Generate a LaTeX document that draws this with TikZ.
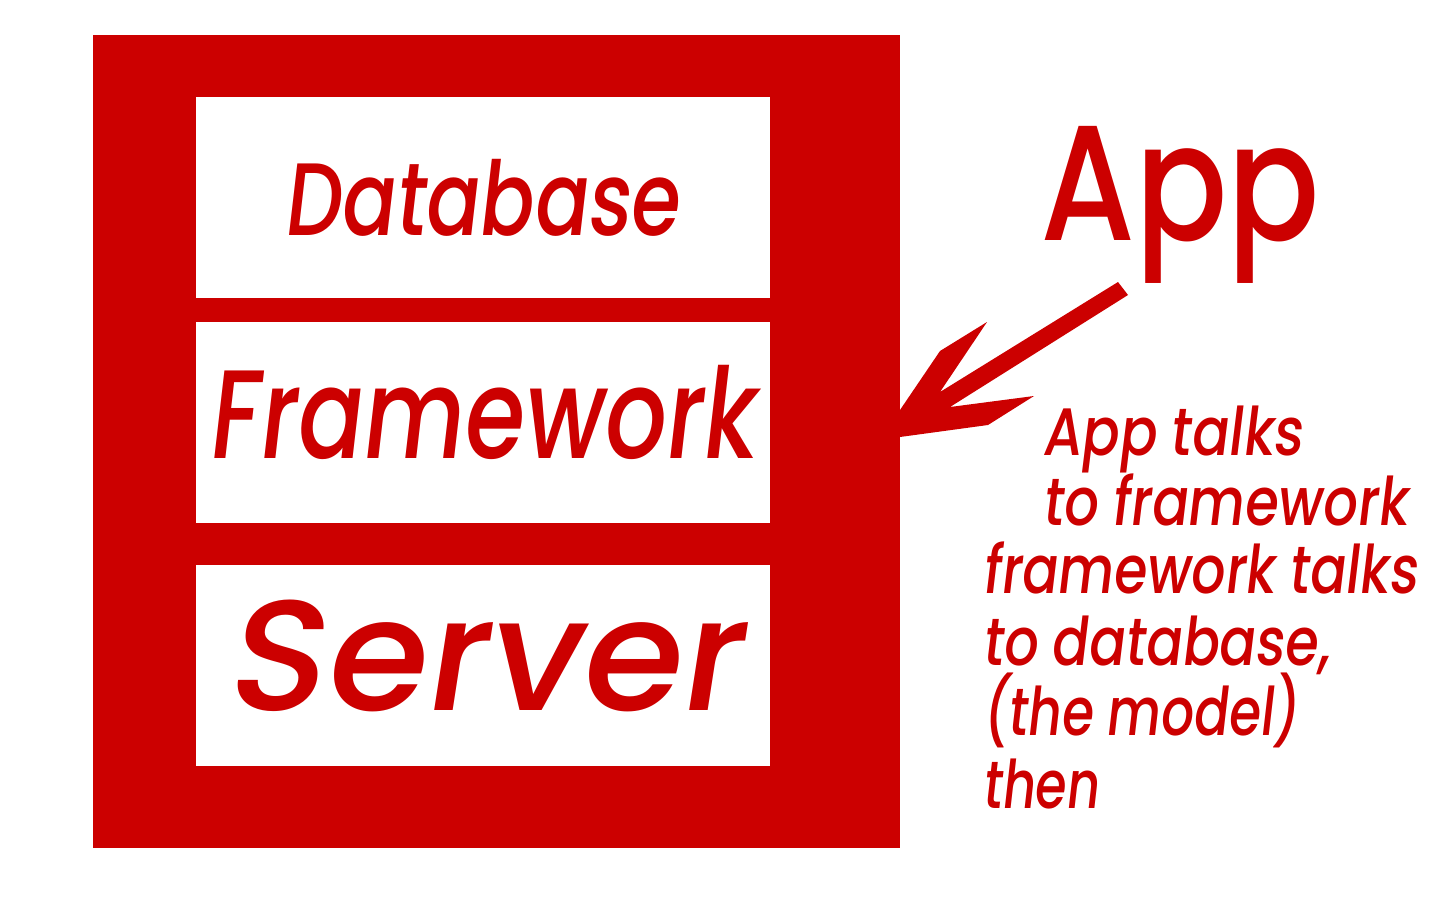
\documentclass[tikz,border=0pt]{standalone}
\usepackage{fontspec}
\usepackage{graphicx}
\setmainfont{Poppins Medium}
\newfontfamily\slfont[FakeSlant=0.15]{Poppins Medium}
\newcommand{\fitw}[2]{\resizebox{#1}{\height}{#2}}
\definecolor{appred}{HTML}{CC0000}
\begin{document}
\begin{tikzpicture}[x=1pt,y=-1pt,
  whitebox/.style={fill=white,draw=none},
  lbl/.style={anchor=base west,inner sep=0pt,text=appred},
  note/.style={lbl,font=\slfont\fontsize{67}{70}\selectfont}]
\useasboundingbox (0,0) rectangle (1440,900);
\fill[appred] (93,35) rectangle (900,848);
\fill[whitebox] (196,97) rectangle (770,298);
\fill[whitebox] (196,322) rectangle (770,523);
\fill[whitebox] (196,565) rectangle (770,766);
\node[lbl,font=\slfont\fontsize{103}{103}\selectfont] (db) at (283,235) {\fitw{395pt}{Database}};
\node[lbl,font=\slfont\fontsize{126}{126}\selectfont] (fw) at (207,458) {\fitw{547pt}{Framework}};
\node[lbl,font=\slfont\fontsize{157}{157}\selectfont] (sv) at (224,710) {\fitw{516pt}{Server}};
\node[lbl,font=\fontsize{164}{164}\selectfont] (app) at (1040,240) {\fitw{280pt}{App}};
\fill[appred] (1118,282) -- (940,392) -- (987,322) -- (940,351) -- (900,410) -- (900,437) -- (988,425) -- (1034,396) -- (950,407) -- (1128,295) -- cycle;
\node[note] (n1) at (1042,455) {\fitw{260pt}{App talks}};
\node[note] (n2) at (1042,525) {\fitw{365pt}{to framework}};
\node[note] (n3) at (982,593) {\fitw{435pt}{framework talks}};
\node[note] (n4) at (982,665) {\fitw{347pt}{to database,}};
\node[note] (n5) at (982,735) {\fitw{316pt}{(the model)}};
\node[note] (n6) at (982,808) {\fitw{116pt}{then}};
\end{tikzpicture}
\end{document}
